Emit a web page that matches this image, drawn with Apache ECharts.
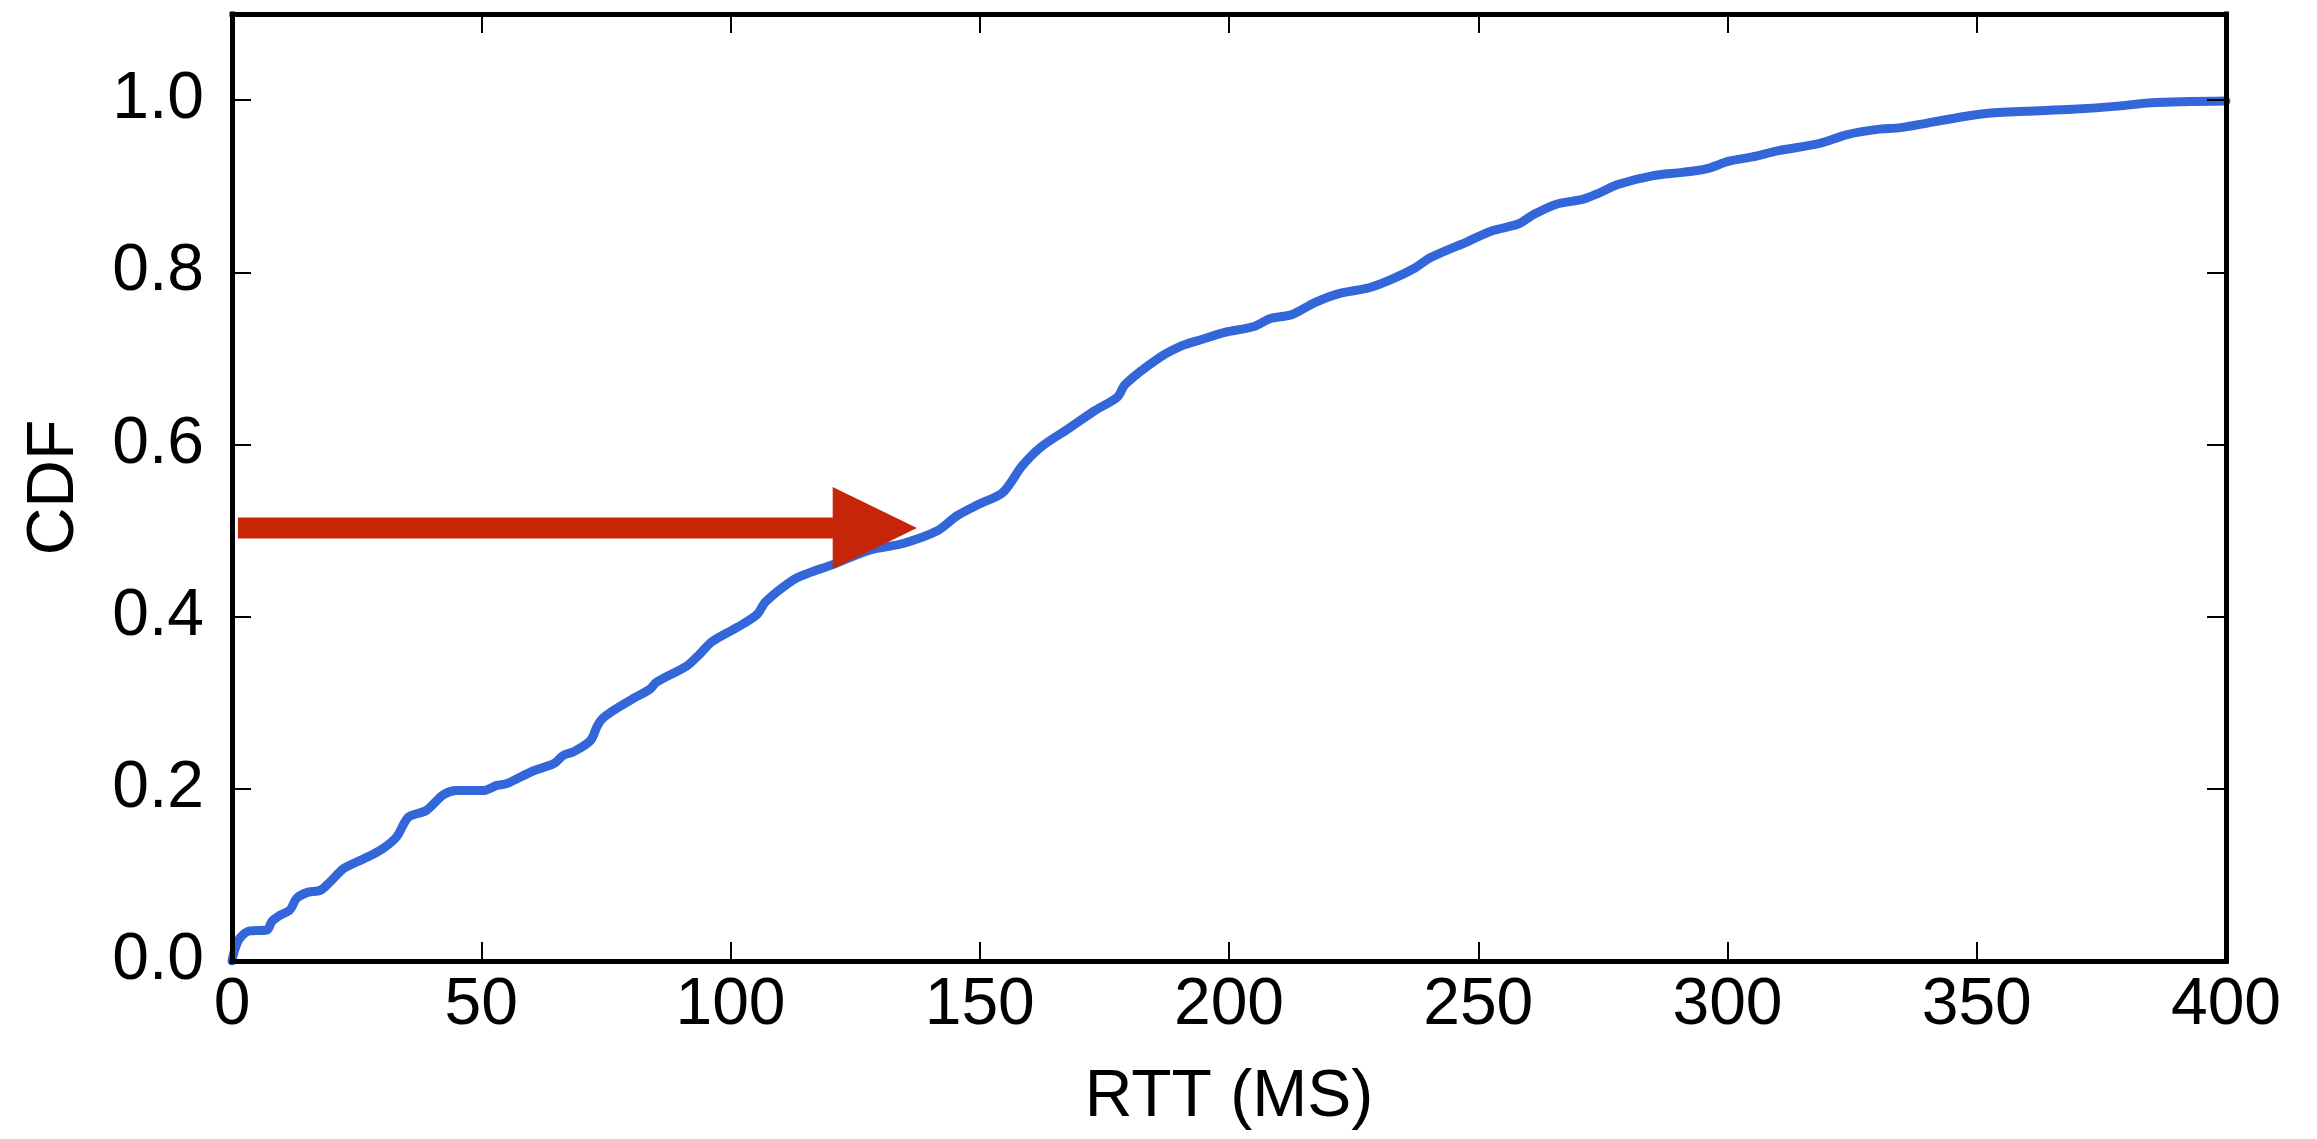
<!DOCTYPE html>
<html>
<head>
<meta charset="utf-8">
<script src="https://cdn.jsdelivr.net/npm/echarts@6/dist/echarts.min.js"></script>
<style>
  html, body { margin: 0; padding: 0; background: #ffffff; }
  #chart { width: 2317px; height: 1139px; }
</style>
</head>
<body>
<div id="chart"></div>
<script>
// ---- data ----
const rttMs = [0, 0.5, 1.5, 3.6, 7.0, 8.0, 9.6, 11.6, 13, 15.3, 17.7, 19.7, 22.3, 25, 28, 30.4, 33, 35.4, 39, 42.4, 45, 50.4, 53.1, 55.1, 60.5, 64.5, 66.5, 68.5, 71.9, 73.2, 74.2, 76.5, 80.5, 83.9, 85.2, 91.3, 93.9, 96.3, 101.5, 105.4, 107, 112.4, 115.4, 120.8, 127.7, 134.6, 141.6, 145.4, 150, 154.6, 158.5, 162.3, 167.7, 173, 177.6, 179.2, 186.1, 190.7, 194.5, 199, 205, 208.2, 212.7, 217.3, 221.9, 228.1, 232.7, 237.3, 240.4, 248, 252.7, 258, 261.1, 265.7, 271.1, 274.2, 278, 284.9, 291, 295.7, 300.3, 305, 310, 318.7, 324, 330.1, 334.8, 347.5, 352.8, 368.2, 378.3, 385, 400];
const cdf = [0, 0.012, 0.026, 0.035, 0.036, 0.046, 0.053, 0.059, 0.073, 0.080, 0.082, 0.092, 0.107, 0.115, 0.123, 0.131, 0.144, 0.167, 0.175, 0.193, 0.198, 0.198, 0.204, 0.206, 0.221, 0.229, 0.239, 0.243, 0.256, 0.272, 0.281, 0.291, 0.305, 0.316, 0.324, 0.343, 0.357, 0.371, 0.388, 0.403, 0.417, 0.442, 0.450, 0.461, 0.477, 0.485, 0.500, 0.517, 0.531, 0.544, 0.575, 0.597, 0.618, 0.639, 0.655, 0.670, 0.701, 0.715, 0.722, 0.730, 0.737, 0.746, 0.751, 0.765, 0.775, 0.782, 0.792, 0.805, 0.817, 0.836, 0.848, 0.856, 0.867, 0.879, 0.885, 0.892, 0.902, 0.912, 0.916, 0.920, 0.929, 0.934, 0.941, 0.950, 0.960, 0.966, 0.968, 0.981, 0.985, 0.989, 0.993, 0.997, 0.999];
const xTicks = [0, 50, 100, 150, 200, 250, 300, 350, 400];
const yTicks = [0.0, 0.2, 0.4, 0.6, 0.8, 1.0];
// arrow annotation (data coordinates)
const arrowY = [0.503];
const arrowFromX = [1.2];
const arrowHeadX = [120.5];
const arrowToX = [137.4];

const xLabel = 'RTT (MS)';
const yLabel = 'CDF';

// ---- chart ----
const FONT = '"Liberation Sans", Arial, Helvetica, sans-serif';
const chart = echarts.init(document.getElementById('chart'), null, { renderer: 'canvas' });

const lineData = rttMs.map((x, i) => [x, cdf[i]]);
const arrowData = [[arrowFromX[0], arrowHeadX[0], arrowToX[0], arrowY[0]]];

const commonTick = { show: true, inside: true, length: 19, lineStyle: { color: '#000', width: 2 } };
const commonLine = { show: true, onZero: false, lineStyle: { color: '#000', width: 5, cap: 'square' } };

const option = {
  backgroundColor: '#ffffff',
  animation: false,
  grid: { left: 232, top: 14, width: 1994, height: 947, containLabel: false },
  xAxis: [
    {
      type: 'value', min: xTicks[0], max: xTicks[xTicks.length - 1], interval: 50,
      position: 'bottom', z: 5,
      axisLine: commonLine, axisTick: commonTick, splitLine: { show: false },
      axisLabel: { show: true, margin: 12, color: '#000', fontSize: 66, fontFamily: FONT },
      name: xLabel, nameLocation: 'middle', nameGap: 104, nameMoveOverlap: false,
      nameTextStyle: { color: '#000', fontSize: 66, fontFamily: FONT }
    },
    {
      type: 'value', min: xTicks[0], max: xTicks[xTicks.length - 1], interval: 50,
      position: 'top', z: 5,
      axisLine: commonLine, axisTick: commonTick, splitLine: { show: false },
      axisLabel: { show: false }
    }
  ],
  yAxis: [
    {
      type: 'value', min: 0, max: 1.1, interval: 0.2,
      position: 'left', z: 5,
      axisLine: commonLine, axisTick: commonTick, splitLine: { show: false },
      axisLabel: {
        show: true, margin: 28, color: '#000', fontSize: 66, fontFamily: FONT,
        showMaxLabel: false,
        formatter: v => (Math.abs(v - 1.1) < 1e-6 ? '' : v.toFixed(1))
      },
      name: yLabel, nameLocation: 'middle', nameGap: 144, nameRotate: 90, nameMoveOverlap: false,
      nameTextStyle: { color: '#000', fontSize: 66, fontFamily: FONT }
    },
    {
      type: 'value', min: 0, max: 1.1, interval: 0.2,
      position: 'right', z: 5,
      axisLine: commonLine, axisTick: commonTick, splitLine: { show: false },
      axisLabel: { show: false }
    }
  ],
  series: [
    {
      type: 'line',
      xAxisIndex: 0, yAxisIndex: 0,
      data: lineData,
      showSymbol: false,
      smooth: 0.3,
      z: 2,
      lineStyle: { color: '#3366d9', width: 9, join: 'round', cap: 'round' }
    },
    {
      type: 'custom',
      xAxisIndex: 0, yAxisIndex: 0,
      data: arrowData,
      z: 3,
      renderItem: function (params, api) {
        const y = api.value(3);
        const p0 = api.coord([api.value(0), y]);
        const pb = api.coord([api.value(1), y]);
        const pt = api.coord([api.value(2), y]);
        const sh = 10.5;   // shaft half thickness (px)
        const hh = 41;     // head half height (px)
        return {
          type: 'polygon',
          shape: {
            points: [
              [p0[0], p0[1] - sh], [pb[0], pb[1] - sh], [pb[0], pb[1] - hh],
              [pt[0], pt[1]],
              [pb[0], pb[1] + hh], [pb[0], pb[1] + sh], [p0[0], p0[1] + sh]
            ]
          },
          style: { fill: '#c62507' }
        };
      }
    }
  ]
};
chart.setOption(option);
</script>
</body>
</html>
